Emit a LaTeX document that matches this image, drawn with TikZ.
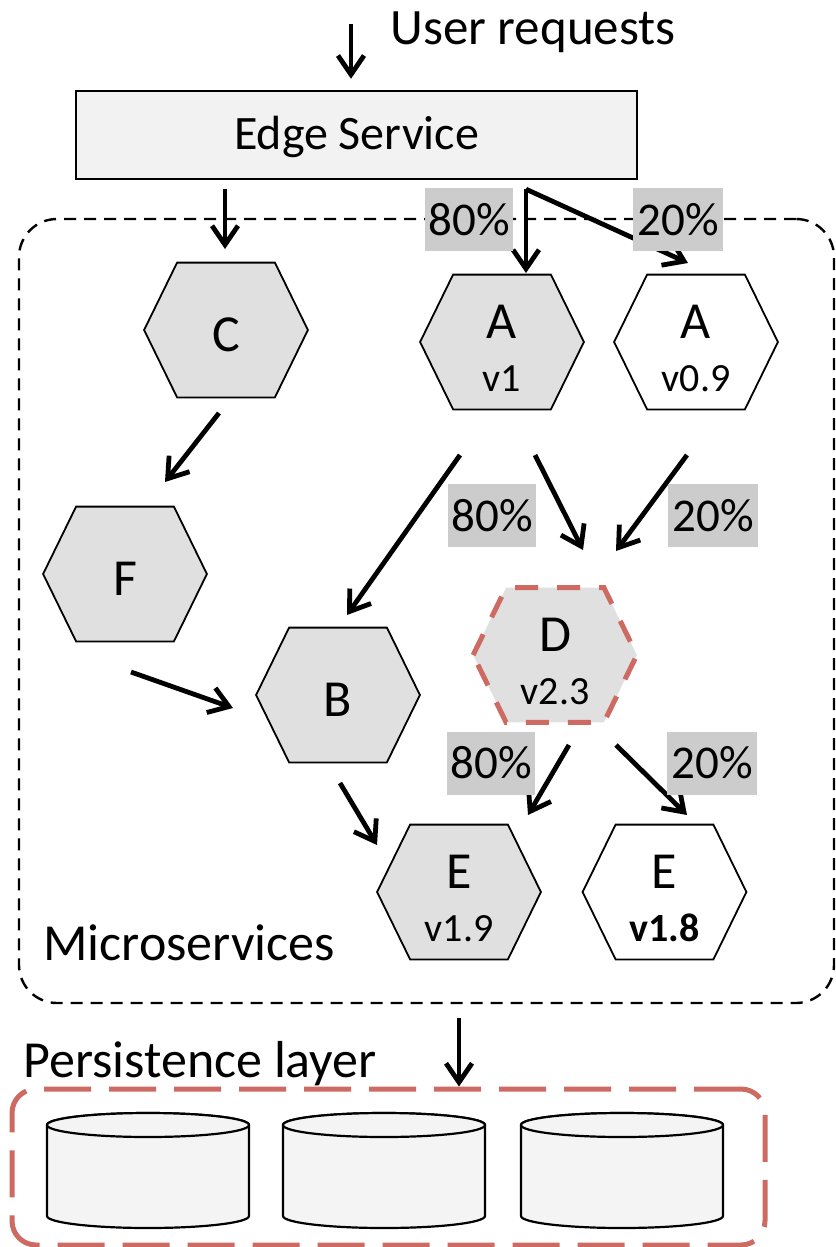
\documentclass[tikz,border=0pt]{standalone}
\usepackage{fontspec}
\setmainfont{Carlito}
\usetikzlibrary{arrows.meta,backgrounds}

\definecolor{hexgray}{HTML}{E0E0E0}
\definecolor{boxgray}{HTML}{F2F2F2}
\definecolor{cylgray}{HTML}{F4F4F4}
\definecolor{taggray}{HTML}{CCCCCC}
\definecolor{layerred}{HTML}{CD6A62}

\tikzset{
  arr/.style={line width=2.4pt, -{Straight Barb[length=9.5pt,width=13pt]}},
  hexbox/.style={rectangle, minimum width=81.5pt, minimum height=67pt, inner sep=0pt,
    font=\fontsize{26}{26}\selectfont},
  hexone/.style={hexbox, text height=21pt, text depth=0pt},
  hextwo/.style={hexbox, text height=0pt, text depth=4pt},
  vtext/.style={anchor=base, inner sep=0pt, font=\fontsize{20}{20}\selectfont},
  hexold/.style={draw=black, line width=0.9pt, fill=hexgray},
  hexnew/.style={draw=black, line width=0.9pt, fill=white},
  hexcanary/.style={draw=layerred, line width=2.5pt, dash pattern=on 11.5pt off 9.5pt, fill=hexgray},
  tag/.style={fill=taggray, minimum width=44pt, minimum height=31.5pt, inner sep=0pt,
    font=\fontsize{23.5}{23.5}\selectfont},
  title/.style={anchor=base west, inner sep=0pt, font=\fontsize{26}{26}\selectfont},
  cyl/.style={draw=black, line width=1.1pt, fill=cylgray},
}

% hexagon outline fitted to the box of a named node
\newcommand\hexshape[2]{%
  \path[#2] (#1.west) -- ([xshift=16.5pt]#1.north west) -- ([xshift=-16.5pt]#1.north east)
    -- (#1.east) -- ([xshift=-16.5pt]#1.south east) -- ([xshift=16.5pt]#1.south west) -- cycle;}

\begin{document}
\begin{tikzpicture}[x=0.5pt, y=-0.5pt]
\useasboundingbox (0,0) rectangle (835,1247);

% layer containers
\node[draw, line width=1.2pt, dash pattern=on 6pt off 4pt, rounded corners=19pt,
  minimum width=407.5pt, minimum height=392pt, inner sep=0pt] (micro) at (426.5,611) {};
\node[draw=layerred, line width=2.5pt, dash pattern=on 23.5pt off 9pt, rounded corners=12pt,
  minimum width=376.5pt, minimum height=78pt, inner sep=0pt] (persist) at (388.5,1167) {};

\node[title] (microlabel) at (43,960) {Microservices};
\node[title] (persistlabel) at (23,1077) {Persistence layer};
\node[title, font=\fontsize{25.5}{25.5}\selectfont] (users) at (390,45) {User requests};

% edge service
\node[draw, line width=1.2pt, fill=boxgray, minimum width=280.5pt, minimum height=44pt,
  inner sep=0pt, text height=14pt, text depth=0pt, font=\fontsize{24}{24}\selectfont]
  (edge) at (356.5,135) {Edge Service};

% services
\node[hexone] (C) at (226,330) {C};
\node[hexone] (F) at (125,574) {F};
\node[hexone] (B) at (338,695) {B};
\node[hextwo] (A1) at (502,342) {A};
\node[hextwo] (A09) at (696,342) {A};
\node[hextwo] (D) at (555,655) {D};
\node[hextwo] (E19) at (459,892) {E};
\node[hextwo] (E18) at (664.5,892) {E};

\node[vtext] (A1v) at ([yshift=-24.5pt]A1.center) {v1};
\node[vtext] (A09v) at ([yshift=-24.5pt]A09.center) {v0.9};
\node[vtext] (Dv) at ([yshift=-24.5pt]D.center) {v2.3};
\node[vtext] (E19v) at ([yshift=-24.5pt]E19.center) {v1.9};
\node[vtext, font=\fontsize{20}{20}\selectfont\bfseries] (E18v) at ([yshift=-24.5pt]E18.center) {v1.8};

\begin{scope}[on background layer]
  \hexshape{C}{hexold}
  \hexshape{F}{hexold}
  \hexshape{B}{hexold}
  \hexshape{A1}{hexold}
  \hexshape{A09}{hexnew}
  \hexshape{D}{hexcanary}
  \hexshape{E19}{hexold}
  \hexshape{E18}{hexnew}
\end{scope}

% request flow
\draw[arr] ([shift={(-5.5,-66)}]edge.north) -- ([shift={(-5.5,-11)}]edge.north);
\draw[arr] ([shift={(-131.5,9)}]edge.south) -- ([shift={(-1,-81)}]C.center);
\draw[arr] ([shift={(169.5,9)}]edge.south) -- ([shift={(24,-69)}]A1.center);
\draw[arr] ([shift={(169.5,9)}]edge.south) -- ([shift={(-8,-79)}]A09.center);
\draw[arr] ([shift={(-7,83)}]C.center) -- ([shift={(40,-92)}]F.center);
\draw[arr] ([shift={(-42,113)}]A1.center) -- ([shift={(9,-80)}]B.center);
\draw[arr] ([shift={(33,113)}]A1.center) -- ([shift={(28,-105)}]D.center);
\draw[arr] ([shift={(-9,113)}]A09.center) -- ([shift={(61,-104)}]D.center);
\draw[arr] ([shift={(6,98)}]F.center) -- ([shift={(-105,13)}]B.center);
\draw[arr] ([shift={(2,88)}]B.center) -- ([shift={(-82,-47)}]E19.center);
\draw[arr] ([shift={(14,90)}]D.center) -- ([shift={(69,-77)}]E19.center);
\draw[arr] ([shift={(61,90)}]D.center) -- ([shift={(22.5,-77)}]E18.center);
\draw[arr] ([shift={(32.5,14)}]micro.south) -- ([shift={(70.5,0)}]persist.north);

% traffic split
\node[tag] (t1) at (469,219.5) {80\%};
\node[tag, minimum width=45pt] (t2) at (678,219.5) {20\%};
\node[tag] (t3) at (492,515.5) {80\%};
\node[tag, minimum width=45pt] (t4) at (713,515.5) {20\%};
\node[tag] (t5) at (491,763) {80\%};
\node[tag, minimum width=45pt] (t6) at (712,763) {20\%};

% databases
\foreach \cx in {148,384,622} {
  \path[cyl] (\cx-101,1125) -- (\cx-101,1216)
    arc[start angle=180, end angle=0, x radius=101, y radius=12]
    -- (\cx+101,1125)
    arc[start angle=0, end angle=-180, x radius=101, y radius=12] -- cycle;
  \path[cyl] (\cx,1125) ellipse [x radius=101, y radius=12];
}
\end{tikzpicture}
\end{document}
